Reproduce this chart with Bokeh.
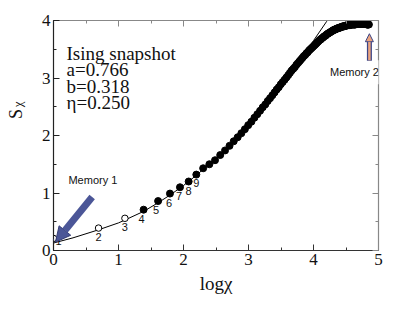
import numpy as np
from bokeh.plotting import figure
from bokeh.layouts import row
from bokeh.models import (Range1d, LinearAxis, SingleIntervalTicker, Label, Arrow,
                          NormalHead, ColumnDataSource, CustomJSTickFormatter)
from bokeh.core.properties import value
from bokeh.embed import file_html
from bokeh.resources import INLINE

# ---------------- data ----------------
chi = list(range(1, 129))
s_chi = [0.21, 0.39, 0.56, 0.71, 0.86, 0.99, 1.10, 1.20, 1.32, 1.43,
         1.50, 1.57, 1.66, 1.74, 1.82, 1.90, 1.97, 2.04, 2.11, 2.18,
         2.24, 2.31, 2.37, 2.43, 2.49, 2.54, 2.60, 2.65, 2.70, 2.75,
         2.80, 2.84, 2.89, 2.93, 2.97, 3.01, 3.05, 3.09, 3.13, 3.16,
         3.19, 3.23, 3.26, 3.29, 3.32, 3.35, 3.38, 3.40, 3.43, 3.45,
         3.48, 3.50, 3.52, 3.54, 3.56, 3.58, 3.60, 3.62, 3.64, 3.66,
         3.67, 3.69, 3.70, 3.72, 3.73, 3.74, 3.76, 3.77, 3.78, 3.79,
         3.80, 3.81, 3.82, 3.83, 3.84, 3.84, 3.85, 3.86, 3.86, 3.87,
         3.87, 3.88, 3.88, 3.89, 3.89, 3.90, 3.90, 3.90, 3.91, 3.91,
         3.91, 3.92, 3.92, 3.92, 3.92, 3.92, 3.93, 3.93, 3.93, 3.93,
         3.93, 3.93, 3.93, 3.93, 3.94, 3.94, 3.94, 3.94, 3.94, 3.94,
         3.94, 3.94, 3.94, 3.94, 3.94, 3.94, 3.94, 3.94, 3.94, 3.94,
         3.94, 3.94, 3.94, 3.93, 3.93, 3.93, 3.93, 3.93]

fit_log_chi = [0.0, 0.3, 0.693, 1.0, 1.099, 1.386, 1.609, 1.8, 2.0, 2.2,
               2.4, 2.6, 2.8, 3.0, 3.2, 3.4, 3.6, 3.8, 4.0, 4.2, 4.3]
fit_s = [0.13, 0.22, 0.36, 0.48, 0.53, 0.68, 0.83, 0.97, 1.13, 1.31,
         1.51, 1.72, 1.95, 2.19, 2.45, 2.73, 3.02, 3.33, 3.65, 3.98, 4.15]

point_labels = ["1", "2", "3", "4", "5", "6", "7", "8", "9"]
param_lines = ["Ising snapshot", "a=0.766", "b=0.318", "\u03b7=0.250"]
x_label = "log\u03c7"
y_label_main, y_label_sub = "S", "\u03c7"

log_chi = np.log(np.array(chi, dtype=float))
n_open = 3

SERIF = "Liberation Serif"
SANS = "Liberation Sans"
TXT = "#111111"

# ---------------- left strip holding the y-axis title ----------------
lw, H = 30, 310
lf = figure(width=lw, height=H, output_backend="svg", toolbar_location=None,
            x_range=Range1d(0, lw), y_range=Range1d(0, H),
            min_border=0, x_axis_location=None, y_axis_location=None)
lf.grid.visible = False
lf.outline_line_color = None
lf.text(x=[15], y=[H - 126], text=[y_label_main], angle=np.pi / 2,
        text_font=value(SERIF), text_font_size="18px", text_align="center",
        text_baseline="middle", text_color=TXT)
lf.text(x=[17], y=[H - 113], text=[y_label_sub], angle=np.pi / 2,
        text_font=value(SERIF), text_font_size="13px", text_align="center",
        text_baseline="middle", text_color=TXT)

# ---------------- main plot ----------------
p = figure(width=375, height=H, output_backend="svg", toolbar_location=None,
           x_range=Range1d(0, 5), y_range=Range1d(0, 4),
           min_border_left=23, min_border_right=27, min_border_top=20,
           min_border_bottom=60)
p.grid.visible = False
p.outline_line_color = None
p.background_fill_color = "white"
p.border_fill_color = "white"

blank = CustomJSTickFormatter(code="return ''")

def style_axis(ax, color, labels=True):
    ax.major_tick_in = 6
    ax.major_tick_out = 0
    ax.minor_tick_in = 3
    ax.minor_tick_out = 0
    ax.axis_line_color = color
    ax.major_tick_line_color = color
    ax.minor_tick_line_color = color
    ax.axis_line_width = 1.2
    if labels:
        ax.major_label_text_font = SERIF
        ax.major_label_text_font_size = "17px"
        ax.major_label_text_color = TXT
        ax.major_label_standoff = 3
    else:
        ax.formatter = blank
        ax.major_label_text_font_size = "1px"
        ax.major_label_standoff = 0

p.xaxis.ticker = SingleIntervalTicker(interval=1, num_minor_ticks=2)
p.yaxis.ticker = SingleIntervalTicker(interval=1, num_minor_ticks=2)
style_axis(p.xaxis[0], "#333333")
style_axis(p.yaxis[0], "#222222")
p.xaxis.axis_label = x_label
p.xaxis.axis_label_text_font = SERIF
p.xaxis.axis_label_text_font_size = "19px"
p.xaxis.axis_label_text_font_style = "normal"
p.xaxis.axis_label_text_color = TXT
p.xaxis.axis_label_standoff = 5

top = LinearAxis(ticker=SingleIntervalTicker(interval=1, num_minor_ticks=2))
right = LinearAxis(ticker=SingleIntervalTicker(interval=1, num_minor_ticks=2))
style_axis(top, "#888888", labels=False)
style_axis(right, "#888888", labels=False)
p.add_layout(top, "above")
p.add_layout(right, "right")

# fit curve
p.line(fit_log_chi, fit_s, line_color="black", line_width=1)

# data points
src_open = ColumnDataSource(dict(x=log_chi[:n_open], y=s_chi[:n_open]))
src_fill = ColumnDataSource(dict(x=log_chi[n_open:], y=s_chi[n_open:]))
p.scatter("x", "y", source=src_fill, size=7, fill_color="black", line_color="black")
p.scatter("x", "y", source=src_open, size=6.5, fill_color="white", line_color="black",
          line_width=1)

# point numbers
lab_src = ColumnDataSource(dict(x=log_chi[:9], y=s_chi[:9], t=point_labels,
                                xo=[5, 0, 0, -2, -2, -1, -1, 0, 0],
                                yo=[3, 9, 9, 9, 9, 9, 9, 9, 8]))
p.text("x", "y", text="t", source=lab_src, x_offset="xo", y_offset="yo",
       text_font=value(SANS), text_font_size="11px", text_align="center",
       text_baseline="middle", text_color=TXT)

# parameter block
for txt, yy in zip(param_lines, [3.43, 3.14, 2.86, 2.57]):
    p.add_layout(Label(x=0.2, y=yy, text=txt, text_font=SERIF, text_font_size="19px",
                       text_baseline="middle", text_align="left", text_color=TXT))

# Memory 1 arrow
p.add_layout(Arrow(x_start=0.595, y_start=0.93, x_end=0.03, y_end=0.145,
                   line_color="#4b5697", line_width=7,
                   end=NormalHead(size=15, fill_color="#4b5697", line_color="#353d75",
                                  line_width=1)))
p.add_layout(Label(x=0.23, y=1.23, text="Memory 1", text_font=SANS, text_font_size="11px",
                   text_baseline="middle", text_color=TXT))

# Memory 2 arrow
p.add_layout(Label(x=4.63, y=3.10, text="Memory 2", text_font=SANS, text_font_size="11px",
                   text_baseline="middle", text_align="center", text_color=TXT,
                   background_fill_color="white", padding=6))
p.add_layout(Arrow(x_start=4.86, y_start=3.30, x_end=4.86, y_end=3.77,
                   line_color="#3c4586", line_width=5,
                   end=NormalHead(size=8, fill_color="#eba47e", line_color="#3c4586",
                                  line_width=1)))
p.add_layout(Arrow(x_start=4.86, y_start=3.31, x_end=4.86, y_end=3.63,
                   line_color="#eba47e", line_width=2.5, end=None))

layout = row(lf, p, spacing=0)
open("out.html", "w").write(file_html(layout, INLINE))
